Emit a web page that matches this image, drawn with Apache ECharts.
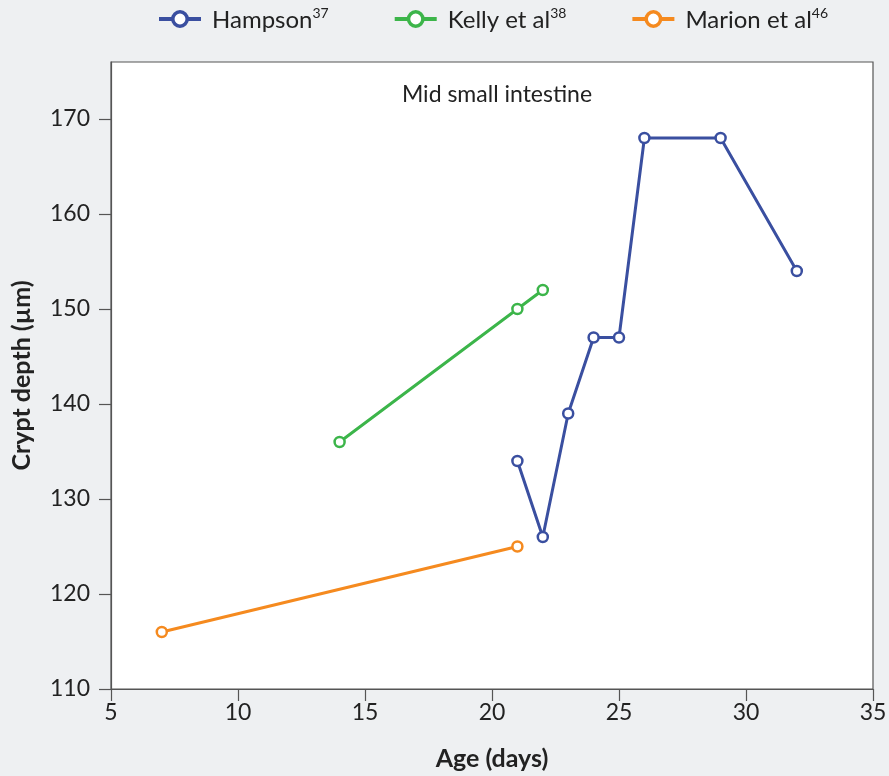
<!DOCTYPE html>
<html><head><meta charset="utf-8">
<script src="https://cdn.jsdelivr.net/npm/echarts@6/dist/echarts.min.js"></script>
<style>html,body{margin:0;padding:0;background:#eef0f2}#c{width:889px;height:776px}</style>
</head><body><div id="c"></div>
<script>
const seriesNames = ['Hampson', 'Kelly et al', 'Marion et al'];
const seriesRefs = ['37', '38', '46'];
const hampsonAge = [21, 22, 23, 24, 25, 26, 29, 32];
const hampsonDepth = [134, 126, 139, 147, 147, 168, 168, 154];
const kellyAge = [14, 21, 22];
const kellyDepth = [136, 150, 152];
const marionAge = [7, 21];
const marionDepth = [116, 125];
const xTicks = [5, 10, 15, 20, 25, 30, 35];
const yTicks = [110, 120, 130, 140, 150, 160, 170];
const colors = ['#3a4fa0', '#3cb54a', '#f58a1f'];

const pairs = (xs, ys) => xs.map((x, i) => [x, ys[i]]);
const datasets = [pairs(hampsonAge, hampsonDepth), pairs(kellyAge, kellyDepth), pairs(marionAge, marionDepth)];

const chart = echarts.init(document.getElementById('c'));
const font = 'Lato, "Open Sans", sans-serif';
chart.setOption({
  backgroundColor: '#eef0f2',
  textStyle: { fontFamily: font },
  title: {
    text: 'Mid small intestine', left: 492, top: 78, textAlign: 'center',
    textStyle: { fontFamily: font, fontSize: 23, fontWeight: 'normal', color: '#222' }
  },
  legend: {
    top: 6, left: 157, padding: 0, itemWidth: 42, itemHeight: 18, itemGap: 64,
    data: seriesNames,
    lineStyle: { width: 4 },
    itemStyle: { borderWidth: 3.5 },
    formatter: name => '{t|' + name + '}{s|' + seriesRefs[seriesNames.indexOf(name)] + '}',
    textStyle: {
      rich: {
        t: { fontFamily: font, fontSize: 24, color: '#222', padding: [2, 0, 0, 6] },
        s: { fontFamily: font, fontSize: 14, color: '#222', verticalAlign: 'top', padding: [0, 0, 12, 0] }
      }
    }
  },
  grid: { left: 111, right: 16, top: 62, bottom: 87, show: true, backgroundColor: '#fff', borderColor: '#555', borderWidth: 1.2, containLabel: false, outerBoundsMode: 'none' },
  xAxis: {
    type: 'value', min: 5, max: 35, interval: 5,
    name: 'Age (days)', nameLocation: 'middle', nameGap: 57,
    nameTextStyle: { fontFamily: font, fontSize: 25, fontWeight: 'bold', color: '#222' },
    axisLine: { show: true, lineStyle: { color: '#555', width: 1.2 } },
    axisTick: { show: true, length: 12, lineStyle: { color: '#555', width: 1.2 } },
    axisLabel: { fontSize: 23, color: '#222', margin: 12, fontFamily: font, customValues: xTicks },
    splitLine: { show: false }
  },
  yAxis: {
    type: 'value', min: 110, max: 176, interval: 10,
    name: 'Crypt depth (µm)', nameLocation: 'middle', nameGap: 77, nameRotate: 90,
    nameTextStyle: { fontFamily: font, fontSize: 25, fontWeight: 'bold', color: '#222' },
    axisLine: { show: true, lineStyle: { color: '#555', width: 1.2 } },
    axisTick: { show: true, length: 12, customValues: yTicks, lineStyle: { color: '#555', width: 1.2 } },
    axisLabel: { fontSize: 23, color: '#222', margin: 21, fontFamily: font, customValues: yTicks },
    splitLine: { show: false }
  },
  series: seriesNames.map((n, i) => ({
    name: n, type: 'line', data: datasets[i],
    color: colors[i],
    lineStyle: { width: 3, color: colors[i] },
    symbol: 'circle', symbolSize: 10,
    itemStyle: { color: '#fff', borderColor: colors[i], borderWidth: 2.5 },
    emphasis: { disabled: true },
    animation: false
  }))
});
</script></body></html>
